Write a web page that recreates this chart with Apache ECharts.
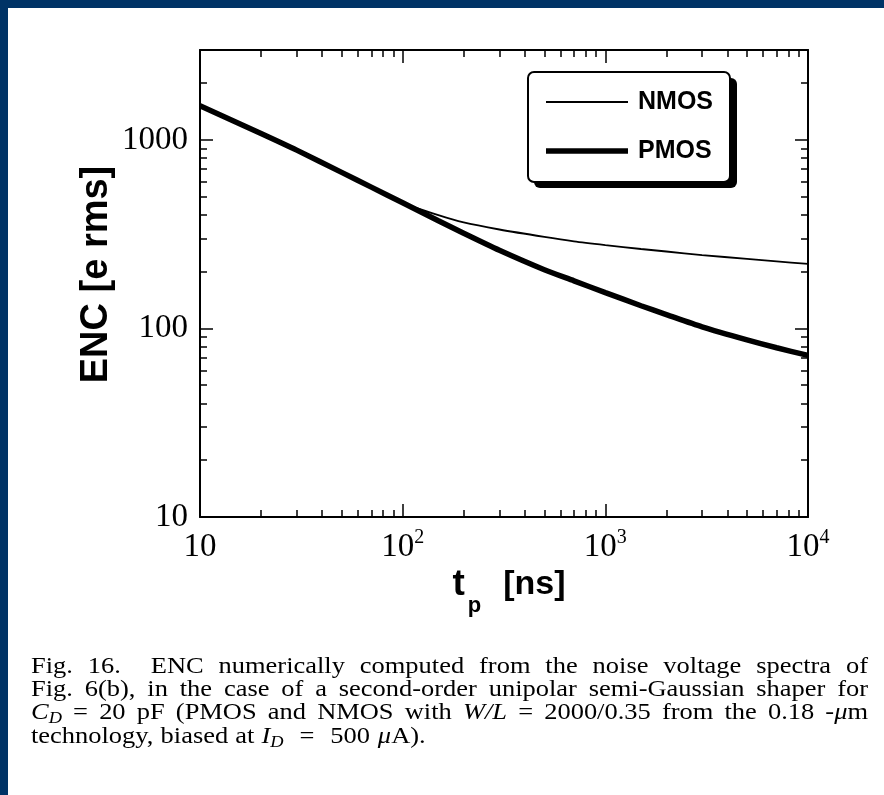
<!DOCTYPE html>
<html><head><meta charset="utf-8">
<script src="https://cdn.jsdelivr.net/npm/echarts@6/dist/echarts.min.js"></script>
<style>html,body{margin:0;padding:0;background:#fff}#c{width:884px;height:795px}</style>
</head><body><div id="c"></div>
<script>
// ---- data ----
const tp   = [10, 20, 30, 50, 70, 100, 150, 200, 300, 500, 700, 1000, 1500, 2000, 3000, 5000, 7000, 10000];
const pmos = [1520, 1082, 883, 673, 562, 464, 373, 320, 260, 205, 179, 155, 132, 118.5, 102, 87, 79, 72];
const nmos = [1520, 1082, 883, 673, 562, 464, 399, 365, 335, 306, 290, 277, 264, 256, 245, 234, 227, 220];
const seriesNames = ['NMOS', 'PMOS'];

const xMajor = [10, 100, 1000, 10000];
const xMinor = [20, 30, 40, 50, 60, 70, 80, 90, 200, 300, 400, 500, 600, 700, 800, 900, 2000, 3000, 4000, 5000, 6000, 7000, 8000, 9000];
const xTickLabels = ['{n|10}', '{n|10}{s|2}', '{n|10}{s|3}', '{n|10}{s|4}'];
const yMajor = [10, 100, 1000];
const yMinor = [20, 30, 40, 50, 60, 70, 80, 90, 200, 300, 400, 500, 600, 700, 800, 900, 2000, 3000];
const yTickLabels = ['10', '100', '1000'];
const xTitle = '{t|t}{p|p}{u|[ns]}';
const yTitle = 'ENC [e rms]';

const captionLines = [
  {justify: true, words: [[['Fig.','n']], [['16.','n']], [], [['ENC','n']], [['numerically','n']], [['computed','n']], [['from','n']], [['the','n']], [['noise','n']], [['voltage','n']], [['spectra','n']], [['of','n']]]},
  {justify: true, words: [[['Fig.','n']], [['6(b),','n']], [['in','n']], [['the','n']], [['case','n']], [['of','n']], [['a','n']], [['second-order','n']], [['unipolar','n']], [['semi-Gaussian','n']], [['shaper','n']], [['for','n']]]},
  {justify: true, words: [[['C','i'],['D','b']], [['=','n']], [['20','n']], [['pF','n']], [['(PMOS','n']], [['and','n']], [['NMOS','n']], [['with','n']], [['W/L','i']], [['=','n']], [['2000/0.35','n']], [['from','n']], [['the','n']], [['0.18','n']], [['-','n'],['\u03bc','i'],['m','n']]]},
  {justify: false, words: [[['technology,','n']], [['biased','n']], [['at','n']], [['I','i'],['D','b']], [['=','n']], [['500','n']], [['\u03bc','i'],['A).','n']]],
   gaps: [0.27, 0.27, 0.27, 0.6, 0.6, 0.3]}
];

// ---- layout / style ----
const FS = 23, SUBFS = 16, SX = 1.15;
const SERIF = '"Liberation Serif", "Times New Roman", serif';
const SANS = '"Liberation Sans", Arial, sans-serif';
const capLeft = 31, capRight = 868;
const capY = [667, 690, 713, 737];

const cvs = document.createElement('canvas');
const ctx = cvs.getContext('2d');
function segFont(t) {
  if (t === 'n') return FS + 'px ' + SERIF;
  if (t === 'i') return 'italic ' + FS + 'px ' + SERIF;
  return 'italic ' + SUBFS + 'px ' + SERIF;
}
function segW(s) { ctx.font = segFont(s[1]); return ctx.measureText(s[0]).width * SX; }
function wordW(w) { let a = 0; w.forEach(s => a += segW(s)); return a; }

const graphics = [
  {type: 'rect', shape: {x: 0, y: 0, width: 884, height: 8}, style: {fill: '#003366'}, z: 100},
  {type: 'rect', shape: {x: 0, y: 0, width: 8, height: 795}, style: {fill: '#003366'}, z: 100},
  // legend frame with hard drop shadow
  {type: 'rect', shape: {x: 534, y: 78, width: 203, height: 110, r: 6}, style: {fill: '#000'}, z: 1},
  {type: 'rect', shape: {x: 528, y: 72, width: 202, height: 110, r: 6}, style: {fill: '#fff', stroke: '#000', lineWidth: 2}, z: 2}
];
captionLines.forEach((ln, li) => {
  const widths = ln.words.map(wordW);
  const total = widths.reduce((a, b) => a + b, 0);
  const jgap = (capRight - capLeft - total) / (ln.words.length - 1);
  let x = capLeft;
  ln.words.forEach((w, wi) => {
    let sx = x;
    w.forEach(s => {
      graphics.push({type: 'text', x: sx, y: capY[li] + (s[1] === 'b' ? 6 : 0), scaleX: SX,
        style: {text: s[0], font: segFont(s[1]), fill: '#000', textAlign: 'left', textVerticalAlign: 'middle', verticalAlign: 'middle'}});
      sx += segW(s);
    });
    const gap = ln.justify ? jgap : (ln.gaps[wi] || 0.27) * FS * SX;
    x += widths[wi] + gap;
  });
});

function tickAxis(dim, pos, ticks, len, showLine) {
  return {type: 'log', logBase: 10, position: pos, min: 10, max: dim === 'x' ? 10000 : 3000, gridIndex: 0,
    splitLine: {show: false}, minorTick: {show: false}, minorSplitLine: {show: false},
    axisLine: {show: showLine, lineStyle: {color: '#000', width: 2}},
    axisTick: {show: true, inside: true, length: len, customValues: ticks, lineStyle: {color: '#000', width: 1.5}},
    axisLabel: {show: false}};
}

const xMain = tickAxis('x', 'bottom', xMajor, 13, true);
xMain.axisLabel = {show: true, customValues: xMajor, margin: 11,
  formatter: v => xTickLabels[Math.round(Math.log10(v)) - 1],
  rich: {n: {fontFamily: SERIF, fontSize: 33, color: '#000', lineHeight: 38},
         s: {fontFamily: SERIF, fontSize: 20, color: '#000', lineHeight: 14, verticalAlign: 'top'}}};
xMain.name = xTitle; xMain.nameLocation = 'middle'; xMain.nameGap = 36; xMain.nameMoveOverlap = false;
xMain.nameTextStyle = {rich: {
  t: {fontFamily: SANS, fontWeight: 'bold', fontSize: 37, color: '#000', lineHeight: 64, padding: [0, 0, 0, 10]},
  p: {fontFamily: SANS, fontWeight: 'bold', fontSize: 22, color: '#000', lineHeight: 20, verticalAlign: 'bottom', padding: [0, 0, 0, 3]},
  u: {fontFamily: SANS, fontWeight: 'bold', fontSize: 34, color: '#000', lineHeight: 64, padding: [0, 0, 0, 22]}}};

const yMain = tickAxis('y', 'left', yMajor, 13, true);
yMain.axisLabel = {show: true, customValues: yMajor, margin: 12, fontFamily: SERIF, fontSize: 33, color: '#000',
  formatter: v => yTickLabels[Math.round(Math.log10(v)) - 1]};
yMain.name = yTitle; yMain.nameLocation = 'middle'; yMain.nameGap = 84; yMain.nameRotate = 90; yMain.nameMoveOverlap = false;
yMain.nameTextStyle = {fontFamily: SANS, fontWeight: 'bold', fontSize: 38, color: '#000', padding: [0, 0, 0, 18]};

const option = {
  animation: false,
  backgroundColor: '#fff',
  grid: {left: 200, right: 76, top: 50, bottom: 278, containLabel: false},
  xAxis: [xMain,
    tickAxis('x', 'bottom', xMinor, 7, false),
    tickAxis('x', 'top', xMajor, 13, true),
    tickAxis('x', 'top', xMinor, 7, false)],
  yAxis: [yMain,
    tickAxis('y', 'left', yMinor, 7, false),
    tickAxis('y', 'right', yMajor, 13, true),
    tickAxis('y', 'right', yMinor, 7, false)],
  legend: {
    left: 546, top: 87, orient: 'vertical', z: 5,
    data: [
      {name: seriesNames[0], icon: 'path://M0,0H82V2H0Z'},
      {name: seriesNames[1], icon: 'path://M0,0H82V5.5H0Z'}
    ],
    itemWidth: 82, itemHeight: 14, itemGap: 19, padding: 0,
    itemStyle: {color: '#000', borderWidth: 0},
    textStyle: {fontFamily: SANS, fontWeight: 'bold', fontSize: 25, lineHeight: 30, color: '#000', padding: [0, 0, 0, 5]}
  },
  series: [
    {type: 'line', name: seriesNames[0], xAxisIndex: 0, yAxisIndex: 0, data: tp.map((t, i) => [t, nmos[i]]),
     symbol: 'none', smooth: 0.25, itemStyle: {color: '#000'}, lineStyle: {color: '#000', width: 1.8}, z: 3},
    {type: 'line', name: seriesNames[1], xAxisIndex: 0, yAxisIndex: 0, data: tp.map((t, i) => [t, pmos[i]]),
     symbol: 'none', smooth: 0.25, itemStyle: {color: '#000'}, lineStyle: {color: '#000', width: 5.5}, z: 2}
  ],
  graphic: graphics
};
const chart = echarts.init(document.getElementById('c'));
chart.setOption(option);
</script>
</body></html>
